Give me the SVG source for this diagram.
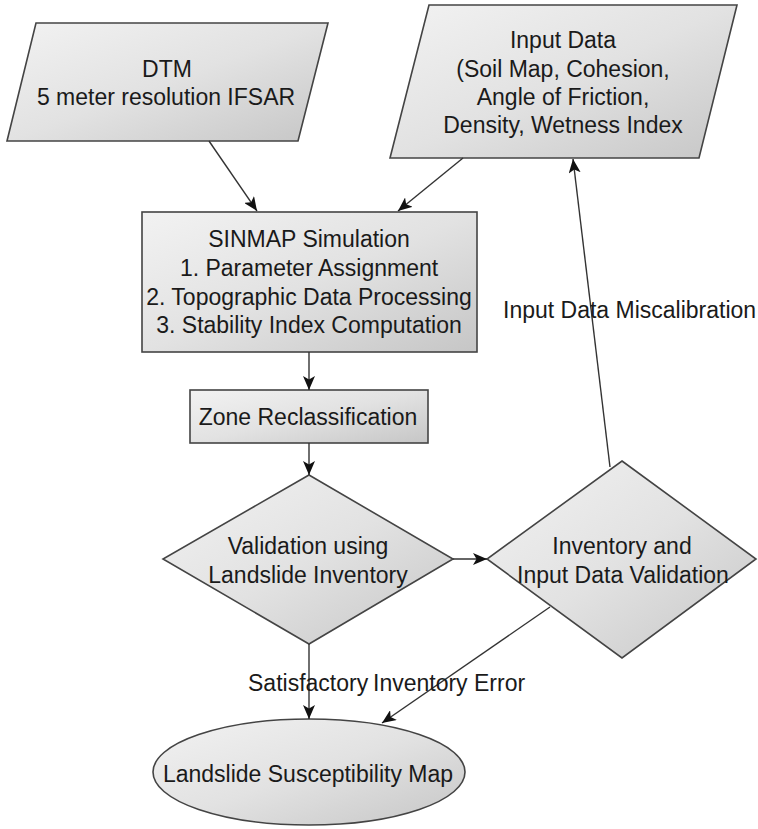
<svg xmlns="http://www.w3.org/2000/svg" width="758" height="829" viewBox="0 0 758 829">
<defs>
<linearGradient id="g" x1="0" y1="0" x2="1" y2="1">
<stop offset="0" stop-color="#f2f2f2"/>
<stop offset="0.5" stop-color="#e2e2e2"/>
<stop offset="1" stop-color="#c6c6c6"/>
</linearGradient>
<marker id="ah" markerUnits="userSpaceOnUse" markerWidth="15" markerHeight="12" refX="14" refY="6" orient="auto">
<path d="M0,0 L14,6 L0,12 L3.5,6 z" fill="#111"/>
</marker>
<style>
.s{fill:url(#g);stroke:#444;stroke-width:1.6}
.t{font-family:"Liberation Sans",Arial,sans-serif;font-size:23px;fill:#1a1a1a;text-anchor:middle}
.c{fill:none;stroke:#333;stroke-width:1.4;marker-end:url(#ah)}
.l{font-family:"Liberation Sans",Arial,sans-serif;font-size:23px;fill:#1a1a1a}
</style>
</defs>
<rect width="758" height="829" fill="#fff"/>
<g id="dtm">
<polygon class="s" points="36,23 328,23 298,141 7,141"/>
<text class="t" x="167" y="77">DTM</text>
<text class="t" x="166" y="105">5 meter resolution IFSAR</text>
</g>
<g id="input">
<polygon class="s" points="429,5 737,5 699,158 390,158"/>
<text class="t" x="563" y="48">Input Data</text>
<text class="t" x="563" y="77">(Soil Map, Cohesion,</text>
<text class="t" x="563" y="105">Angle of Friction,</text>
<text class="t" x="563" y="133">Density, Wetness Index</text>
</g>
<g id="sinmap">
<rect class="s" x="142" y="212" width="335" height="140"/>
<text class="t" x="309" y="247">SINMAP Simulation</text>
<text class="t" x="309" y="276">1. Parameter Assignment</text>
<text class="t" x="309" y="305">2. Topographic Data Processing</text>
<text class="t" x="309" y="333">3. Stability Index Computation</text>
</g>
<g id="zone">
<rect class="s" x="190" y="390" width="238" height="53"/>
<text class="t" x="308" y="425">Zone Reclassification</text>
</g>
<g id="validation">
<polygon class="s" points="309,475 453,559 309,644 163,559"/>
<text class="t" x="308" y="554">Validation using</text>
<text class="t" x="308" y="583">Landslide Inventory</text>
</g>
<g id="inventory">
<polygon class="s" points="622,461 756,559 622,658 487,559"/>
<text class="t" x="622" y="554">Inventory and</text>
<text class="t" x="623" y="583">Input Data Validation</text>
</g>
<g id="map">
<ellipse class="s" cx="309" cy="772" rx="156" ry="53"/>
<text class="t" x="308" y="782">Landslide Susceptibility Map</text>
</g>
<g id="connectors">
<line class="c" x1="209" y1="141" x2="257" y2="211"/>
<line class="c" x1="463" y1="158" x2="398" y2="211"/>
<line class="c" x1="309" y1="352" x2="309" y2="390"/>
<line class="c" x1="309" y1="443" x2="309" y2="475"/>
<line class="c" x1="453" y1="559" x2="487" y2="559"/>
<line class="c" x1="610" y1="467" x2="573" y2="159"/>
<line class="c" x1="309" y1="644" x2="309" y2="719"/>
<line class="c" x1="550" y1="607" x2="382" y2="723"/>
<text class="l" x="503" y="318">Input Data Miscalibration</text>
<text class="l" x="248" y="691">Satisfactory</text>
<text class="l" x="373" y="691">Inventory Error</text>
</g>
</svg>
